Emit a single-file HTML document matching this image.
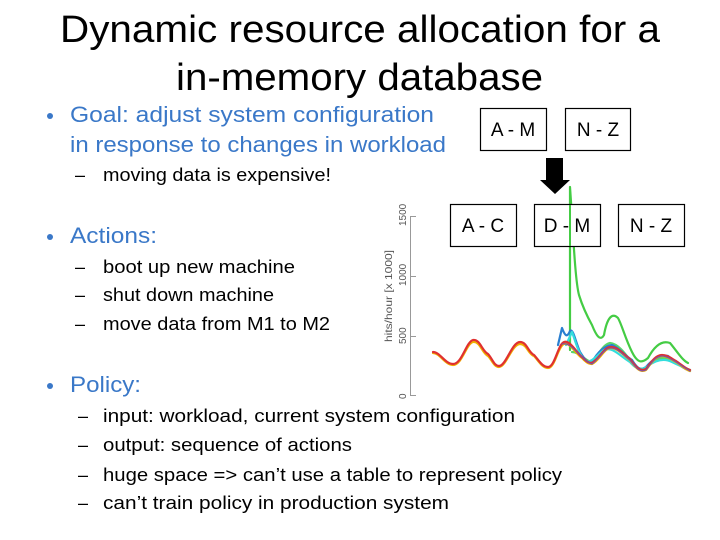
<!DOCTYPE html>
<html><head><meta charset="utf-8"><style>
html,body{margin:0;padding:0;background:#fff;}
svg{display:block;font-family:"Liberation Sans","DejaVu Sans",sans-serif;}
</style></head><body>
<svg width="720" height="540" viewBox="0 0 720 540" xmlns="http://www.w3.org/2000/svg">
<rect width="720" height="540" fill="#fff"/>
<text x="60" y="42" font-size="38" textLength="600" lengthAdjust="spacingAndGlyphs" fill="#000">Dynamic resource allocation for a</text>
<text x="176" y="90" font-size="38" textLength="367" lengthAdjust="spacingAndGlyphs" fill="#000">in-memory database</text>
<circle cx="50" cy="116" r="3" fill="#3a78c8"/>
<text x="70" y="122" font-size="22" textLength="364" lengthAdjust="spacingAndGlyphs" fill="#3a78c8">Goal: adjust system configuration</text>
<text x="70" y="152" font-size="22" textLength="376" lengthAdjust="spacingAndGlyphs" fill="#3a78c8">in response to changes in workload</text>
<text x="75" y="181" font-size="18" fill="#000">–</text>
<text x="103" y="181" font-size="18" textLength="228" lengthAdjust="spacingAndGlyphs">moving data is expensive!</text>
<circle cx="50" cy="237" r="3" fill="#3a78c8"/>
<text x="70" y="243" font-size="22" textLength="87" lengthAdjust="spacingAndGlyphs" fill="#3a78c8">Actions:</text>
<text x="75" y="273" font-size="18">–</text>
<text x="103" y="273" font-size="18" textLength="192" lengthAdjust="spacingAndGlyphs">boot up new machine</text>
<text x="75" y="301" font-size="18">–</text>
<text x="103" y="301" font-size="18" textLength="171" lengthAdjust="spacingAndGlyphs">shut down machine</text>
<text x="75" y="330" font-size="18">–</text>
<text x="103" y="330" font-size="18" textLength="227" lengthAdjust="spacingAndGlyphs">move data from M1 to M2</text>
<circle cx="50" cy="386" r="3" fill="#3a78c8"/>
<text x="70" y="392" font-size="22" textLength="71" lengthAdjust="spacingAndGlyphs" fill="#3a78c8">Policy:</text>
<text x="78" y="422" font-size="18">–</text>
<text x="103" y="422" font-size="18" textLength="412" lengthAdjust="spacingAndGlyphs">input: workload, current system configuration</text>
<text x="78" y="451" font-size="18">–</text>
<text x="103" y="451" font-size="18" textLength="249" lengthAdjust="spacingAndGlyphs">output: sequence of actions</text>
<text x="78" y="481" font-size="18">–</text>
<text x="103" y="481" font-size="18" textLength="459" lengthAdjust="spacingAndGlyphs">huge space =&gt; can’t use a table to represent policy</text>
<text x="78" y="509" font-size="18">–</text>
<text x="103" y="509" font-size="18" textLength="346" lengthAdjust="spacingAndGlyphs">can’t train policy in production system</text>
<g stroke="#999" stroke-width="1" fill="none">
<line x1="410.5" y1="216" x2="410.5" y2="396"/>
<line x1="410" y1="216.5" x2="416" y2="216.5"/>
<line x1="410" y1="276.5" x2="416" y2="276.5"/>
<line x1="410" y1="336.5" x2="416" y2="336.5"/>
<line x1="410" y1="395.5" x2="416" y2="395.5"/>
</g>
<g font-size="10" fill="#555">
<text transform="translate(406,226) rotate(-90)">1500</text>
<text transform="translate(406,286) rotate(-90)">1000</text>
<text transform="translate(406,344) rotate(-90)">500</text>
<text transform="translate(406,399) rotate(-90)">0</text>
<text transform="translate(392,342) rotate(-90)" font-size="10" textLength="92" lengthAdjust="spacingAndGlyphs">hits/hour [x 1000]</text>
</g>
<g fill="none" stroke-width="2.2" stroke-linejoin="round" stroke-linecap="round">
<path stroke="#44cc44" d="M570,350 L570,187 C573,230 575,280 579,295 C583,308 587,316 592,325 C596,335 600,342 604,335 C607,318 612,312 618,318 C622,325 625,338 632,352 C637,362 641,364 648,358 C655,345 662,340 670,343 C676,350 682,360 688,363"/>
<path stroke="#5ad66a" d="M572,352 C580,352 586,362 592,362 C598,356 602,345 610,343 C618,344 624,352 630,360 C636,368 640,372 648,366 C656,358 664,356 672,360 C680,366 685,368 690,370"/>
<path stroke="#2a7fd0" d="M558,345 L562,328 C565,336 567,338 570,331 C573,328 575,340 580,352 C585,360 588,364 592,362 C598,352 604,346 612,345 C620,348 625,356 632,360 C637,368 640,371 646,367 C652,360 660,354 668,356 C676,362 682,368 690,371"/>
<path stroke="#33dddd" d="M566,345 L572,332 C575,340 578,352 584,360 C590,365 596,356 604,350 C612,346 620,356 630,362 C636,369 641,371 648,366 C656,360 664,358 672,362 C680,366 686,368 690,370"/>
<path stroke="#f0b000" d="M433,353 C440,353 445,365 453,365 C462,365 466,344 473,342 C480,341 482,353 488,356 C492,360 494,367 499,367 C506,367 512,344 520,344 C527,344 528,354 534,356 C538,360 542,368 548,368 C555,368 558,346 564,344 C570,342 576,354 582,358 C586,362 588,364 592,364 C600,360 604,348 611,348 C618,348 624,356 630,360 C636,368 640,373 646,370 C652,362 656,356 662,356 C668,356 672,360 676,362 C682,366 686,370 690,371"/>
<path stroke="#e03030" d="M433,352 C440,352 445,364 453,364 C462,364 466,342 473,340 C480,339 482,351 488,354 C492,358 494,366 499,366 C506,366 512,342 520,342 C527,342 528,352 534,355 C538,359 542,367 548,367 C555,367 558,344 564,342 C570,340 576,352 582,357 C586,361 588,363 592,363 C600,358 604,347 611,347 C618,347 624,355 630,359 C636,367 640,372 646,369 C652,361 656,355 662,355 C668,355 672,359 676,361 C682,365 686,369 690,370"/>
<path stroke="#8050a0" stroke-width="1.2" d="M562,344 C570,342 576,352 582,357 C586,361 588,363 592,364 C600,358 604,348 611,348 C618,348 624,356 630,360 C636,368 640,373 646,370 C652,362 656,356 662,356 C668,356 676,362 690,371"/>
</g>
<g fill="#fff" stroke="#000" stroke-width="1.2">
<rect x="480.5" y="108.5" width="66" height="42"/>
<rect x="565.5" y="108.5" width="65" height="42"/>
<rect x="450.5" y="204.5" width="66" height="42"/>
<rect x="534.5" y="204.5" width="66" height="42"/>
<rect x="618.5" y="204.5" width="66" height="42"/>
</g>
<line x1="570" y1="205" x2="570" y2="246" stroke="#44cc44" stroke-width="2"/>
<g font-size="19" text-anchor="middle" fill="#000">
<text x="513" y="136">A - M</text>
<text x="598" y="136">N - Z</text>
<text x="483" y="232">A - C</text>
<text x="567" y="232">D - M</text>
<text x="651" y="232">N - Z</text>
</g>
<polygon points="546,158 563,158 563,180 570,180 555,194 540,180 546,180" fill="#000"/>
</svg>
</body></html>
